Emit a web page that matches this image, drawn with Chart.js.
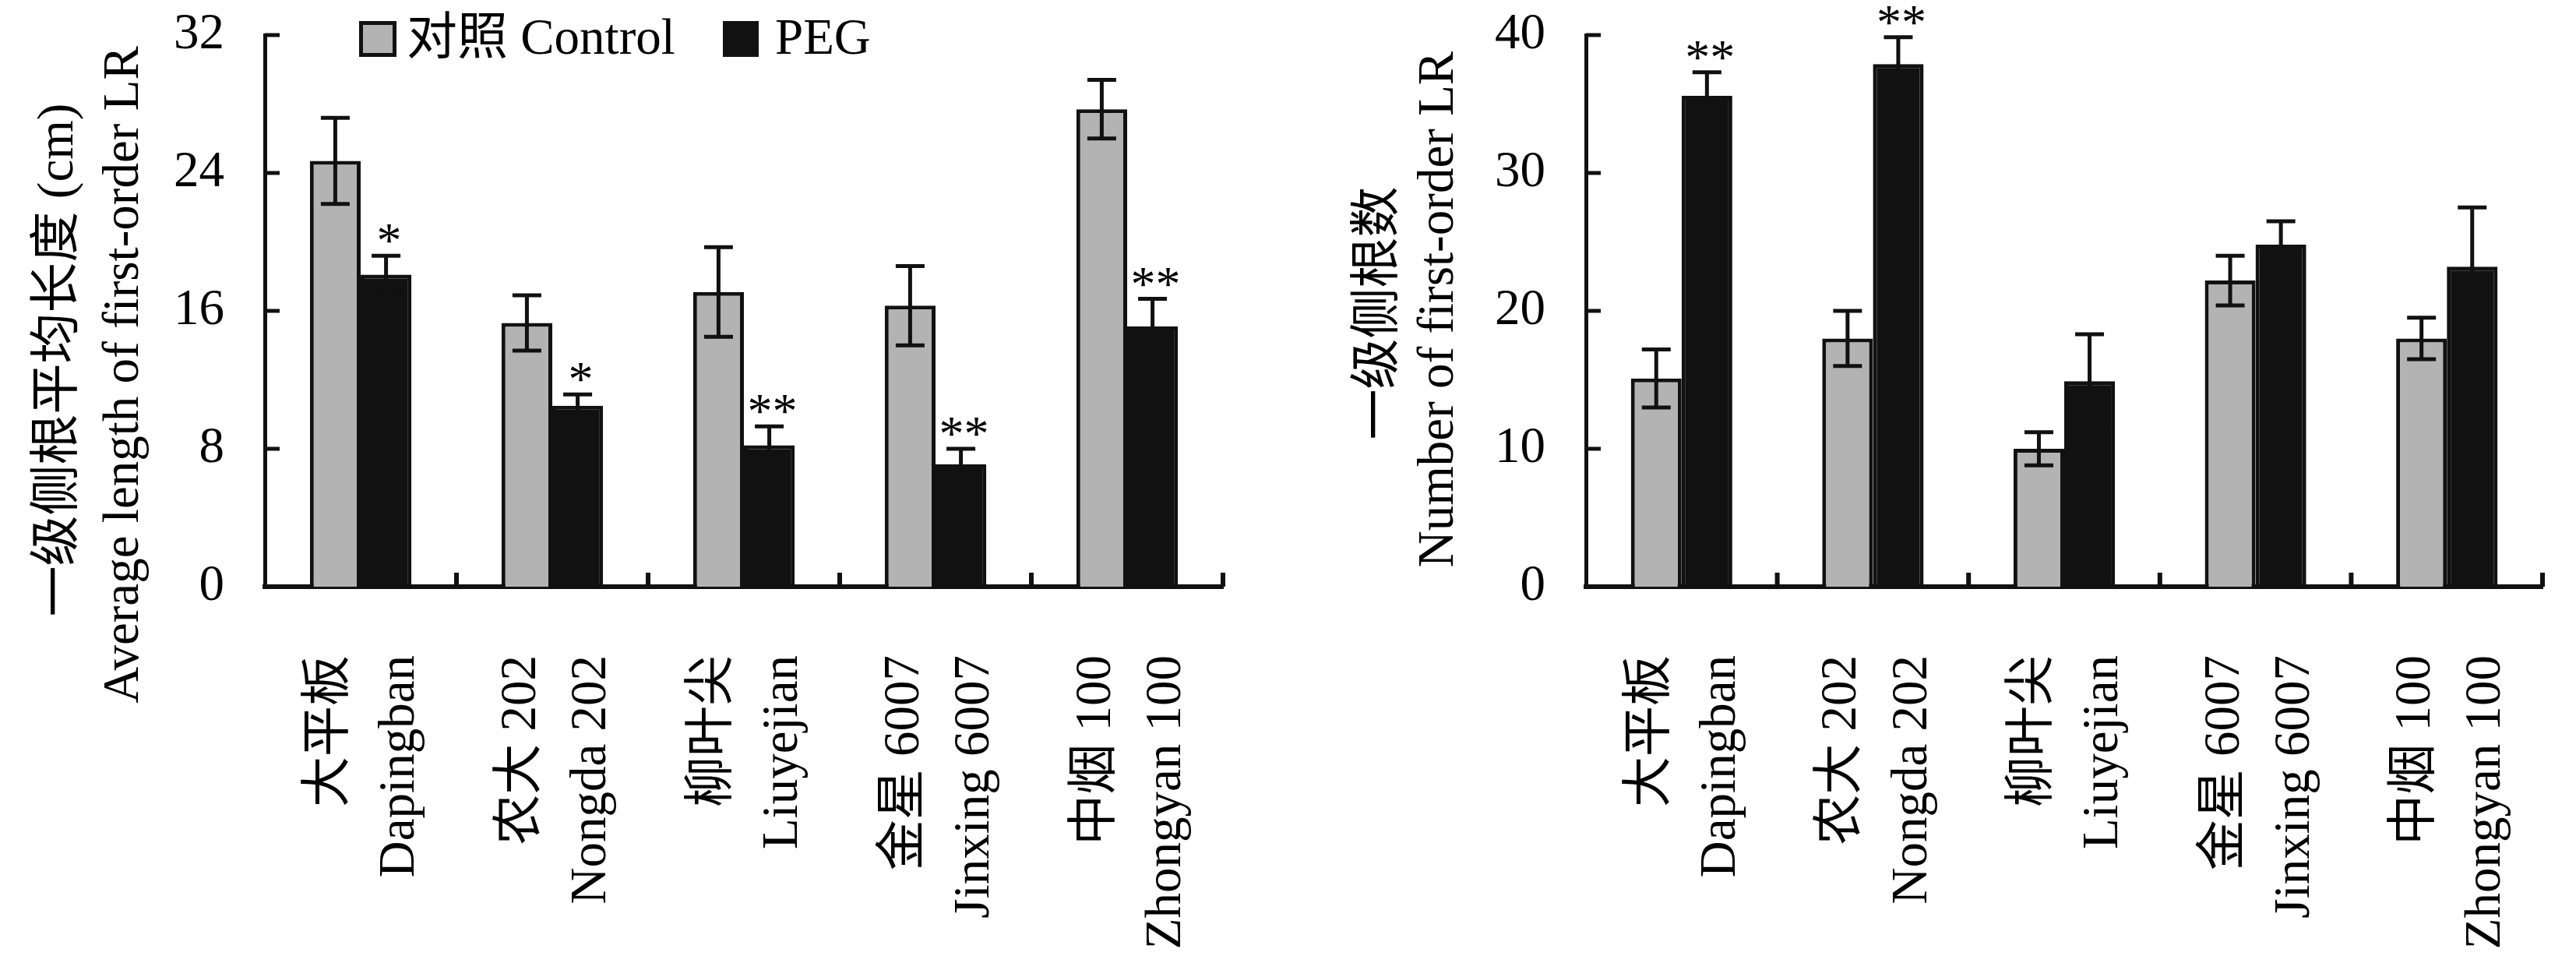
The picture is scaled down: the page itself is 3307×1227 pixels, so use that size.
<!DOCTYPE html>
<html>
<head>
<meta charset="utf-8">
<script src="https://cdn.jsdelivr.net/npm/chart.js@4.4.1/dist/chart.umd.min.js"></script>
<style>
html,body{margin:0;padding:0;background:#fff;}
#wrap{position:relative;width:3307px;height:1227px;overflow:hidden;background:#fff;}
canvas{position:absolute;top:0;}
</style>
</head>
<body>
<div id="wrap">
<canvas id="c1" width="1650" height="1227" style="left:0;width:1650px;height:1227px"></canvas>
<canvas id="c2" width="1657" height="1227" style="left:1650px;width:1657px;height:1227px"></canvas>
</div>
<script>
// ---------- data ----------
const categoriesCN = ['大平板', '农大 202', '柳叶尖', '金星 6007', '中烟 100'];
const categoriesEN = ['Dapingban', 'Nongda 202', 'Liuyejian', 'Jinxing 6007', 'Zhongyan 100'];
const seriesNames = ['对照 Control', 'PEG'];

const lengthControl    = [24.7, 15.3, 17.1, 16.3, 27.7];
const lengthControlErr = [2.5, 1.6, 2.6, 2.3, 1.7];
const lengthPEG        = [18.1, 10.5, 8.2, 7.1, 15.1];
const lengthPEGErr     = [1.1, 0.65, 1.1, 0.9, 1.6];
const lengthSig        = ['*', '*', '**', '**', '**'];

const countControl    = [15.1, 18.0, 10.0, 22.2, 18.0];
const countControlErr = [2.1, 2.0, 1.2, 1.8, 1.5];
const countPEG        = [35.6, 37.9, 14.9, 24.8, 23.2];
const countPEGErr     = [1.7, 1.95, 3.4, 1.7, 4.3];
const countSig        = ['**', '**', '', '', ''];

const lengthTicks = { min: 0, max: 32, step: 8 };
const countTicks  = { min: 0, max: 40, step: 10 };

const lengthTitle = ['一级侧根平均长度 (cm)', 'Average length of first-order LR'];
const countTitle  = ['一级侧根数', 'Number of first-order LR'];

// ---------- styles ----------
const INK = '#111111';
const GRAY = '#b3b3b3';
const FONT = "'Liberation Serif','Times New Roman','Noto Sans CJK SC',serif";

// ---------- plugins ----------
const errorBars = {
  id: 'errorBars',
  afterDatasetsDraw(chart, args, opts) {
    const ctx = chart.ctx, y = chart.scales.y;
    chart.data.datasets.forEach((ds, di) => {
      const meta = chart.getDatasetMeta(di);
      const errs = opts.errors[di];
      meta.data.forEach((bar, i) => {
        const v = ds.data[i], e = errs[i];
        const yt = y.getPixelForValue(v + e), yb = y.getPixelForValue(v - e);
        const hw = 18.5;
        ctx.save();
        ctx.strokeStyle = INK; ctx.lineWidth = 5; ctx.lineCap = 'butt';
        ctx.beginPath();
        ctx.moveTo(bar.x, yt); ctx.lineTo(bar.x, yb);
        ctx.moveTo(bar.x - hw, yt); ctx.lineTo(bar.x + hw, yt);
        ctx.moveTo(bar.x - hw, yb); ctx.lineTo(bar.x + hw, yb);
        ctx.stroke();
        ctx.restore();
      });
    });
  }
};

const sigMarks = {
  id: 'sigMarks',
  afterDatasetsDraw(chart, args, opts) {
    const ctx = chart.ctx, y = chart.scales.y;
    const di = opts.dataset;
    const ds = chart.data.datasets[di];
    const meta = chart.getDatasetMeta(di);
    meta.data.forEach((bar, i) => {
      const s = opts.labels[i];
      if (!s) return;
      const yt = y.getPixelForValue(ds.data[i] + opts.errors[i]);
      ctx.save();
      ctx.font = '64px ' + FONT;
      ctx.fillStyle = '#000';
      ctx.textAlign = 'center';
      ctx.textBaseline = 'alphabetic';
      ctx.fillText(s, bar.x + 4, yt + 2);
      ctx.restore();
    });
  }
};

const innerTicks = {
  id: 'innerTicks',
  afterDatasetsDraw(chart) {
    const ctx = chart.ctx, x = chart.scales.x, y = chart.scales.y;
    ctx.save();
    ctx.strokeStyle = INK;
    ctx.lineWidth = 5;
    y.ticks.forEach(t => {
      if (t.value === y.min) return;
      const py = y.getPixelForValue(t.value);
      ctx.beginPath(); ctx.moveTo(x.left, py); ctx.lineTo(x.left + 19, py); ctx.stroke();
    });
    const n = chart.data.labels.length;
    ctx.lineWidth = 6;
    for (let i = 1; i <= n; i++) {
      const px = i < n ? (x.getPixelForValue(i - 1) + x.getPixelForValue(i)) / 2 : x.right;
      ctx.beginPath(); ctx.moveTo(px, y.bottom); ctx.lineTo(px, y.bottom - 18); ctx.stroke();
    }
    ctx.restore();
  }
};

const yTitle = {
  id: 'yTitle',
  afterDraw(chart, args, opts) {
    const ctx = chart.ctx;
    opts.lines.forEach((line, k) => {
      const p = opts.pos[k];
      ctx.save();
      ctx.translate(p[0], p[1]);
      ctx.rotate(-Math.PI / 2);
      ctx.font = '65px ' + FONT;
      ctx.fillStyle = '#000';
      ctx.textAlign = 'center';
      ctx.textBaseline = 'middle';
      ctx.fillText(line, 0, 0);
      ctx.restore();
    });
  }
};

const boxLegend = {
  id: 'boxLegend',
  afterDraw(chart, args, opts) {
    if (!opts.show) return;
    const ctx = chart.ctx;
    chart.data.datasets.forEach((ds, i) => {
      const it = opts.items[i];
      ctx.save();
      ctx.fillStyle = ds.backgroundColor;
      ctx.fillRect(it.x, it.y, it.w, it.h);
      ctx.strokeStyle = ds.borderColor;
      ctx.lineWidth = 5;
      ctx.strokeRect(it.x + 2.5, it.y + 2.5, it.w - 5, it.h - 5);
      ctx.font = '65px ' + FONT;
      ctx.fillStyle = '#000';
      ctx.textAlign = 'left';
      ctx.textBaseline = 'middle';
      ctx.fillText(ds.label, it.tx, it.y + it.h / 2 + 2);
      ctx.restore();
    });
  }
};

// ---------- builder ----------
function makeChart(canvasId, cfg) {
  const labels = categoriesCN.map((c, i) => [c, categoriesEN[i]]);
  return new Chart(document.getElementById(canvasId), {
    type: 'bar',
    data: {
      labels: labels,
      datasets: [
        { label: seriesNames[0], data: cfg.control, backgroundColor: GRAY, borderColor: INK, borderWidth: 5,
          categoryPercentage: 0.53, barPercentage: 1.0 },
        { label: seriesNames[1], data: cfg.peg, backgroundColor: INK, borderColor: INK, borderWidth: 5,
          categoryPercentage: 0.53, barPercentage: 1.0 }
      ]
    },
    options: {
      responsive: false,
      animation: false,
      devicePixelRatio: 1,
      layout: { padding: { left: 0, top: 45, right: cfg.padRight, bottom: 0 } },
      scales: {
        x: {
          type: 'category', offset: true, z: 1,
          grid: { display: false },
          border: { display: true, width: 6, color: INK },
          ticks: { autoSkip: false, minRotation: 90, maxRotation: 90, padding: 80, labelOffset: -39,
                   color: '#000', font: { family: FONT, size: 65, lineHeight: 1.385 } },
          afterFit(s) { s.height = 474; s.paddingLeft = 0; s.paddingRight = 0; s.paddingTop = 0; s.paddingBottom = 0; }
        },
        y: {
          min: cfg.ticks.min, max: cfg.ticks.max, z: 1,
          grid: { display: false },
          border: { display: true, width: 5, color: INK },
          ticks: { stepSize: cfg.ticks.step, padding: 44, color: '#000', font: { family: FONT, size: 65 } },
          afterFit(s) { s.width = cfg.yWidth; s.paddingLeft = 0; s.paddingRight = 0; s.paddingTop = 0; s.paddingBottom = 0; }
        }
      },
      plugins: {
        legend: { display: false },
        tooltip: { enabled: false },
        errorBars: { errors: [cfg.controlErr, cfg.pegErr] },
        sigMarks: { dataset: 1, labels: cfg.sig, errors: cfg.pegErr },
        yTitle: { lines: cfg.title, pos: cfg.titlePos },
        boxLegend: cfg.legend
      }
    },
    plugins: [errorBars, sigMarks, innerTicks, yTitle, boxLegend]
  });
}

makeChart('c1', {
  control: lengthControl, controlErr: lengthControlErr,
  peg: lengthPEG, pegErr: lengthPEGErr, sig: lengthSig,
  ticks: lengthTicks, title: lengthTitle,
  titlePos: [[76, 462], [160, 481]],
  yWidth: 340, padRight: 80,
  legend: { show: true, items: [
    { x: 461, y: 27, w: 48, h: 46, tx: 522 },
    { x: 928, y: 27, w: 46, h: 46, tx: 995 }
  ] }
});

makeChart('c2', {
  control: countControl, controlErr: countControlErr,
  peg: countPEG, pegErr: countPEGErr, sig: countSig,
  ticks: countTicks, title: countTitle,
  titlePos: [[121, 402], [198, 397]],
  yWidth: 386, padRight: 43,
  legend: { show: false, items: [] }
});
</script>
</body>
</html>
